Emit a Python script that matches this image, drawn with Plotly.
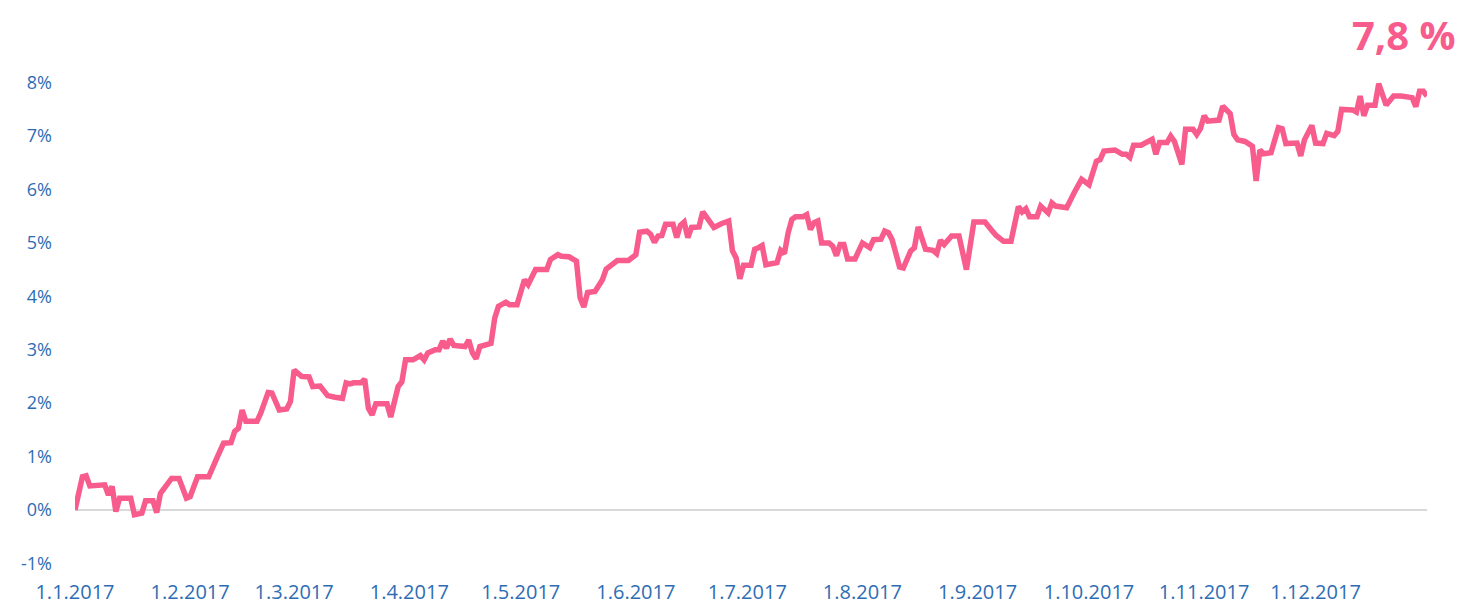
import pandas as pd
import plotly.graph_objects as go

# days since 1.1.2017 and cumulative return in percent
day_offset = [
    0, 2, 3, 4, 8, 9, 10, 11, 12, 15, 16, 18, 19, 21, 22, 23, 26, 28, 30, 31,
    33, 36, 38, 40, 42, 43, 44, 45, 46, 49, 50, 52, 53, 55, 57, 58, 59, 61, 63, 64,
    66, 68, 70, 72, 73, 74, 75, 77, 78, 79, 80, 81, 84, 85, 87, 88, 89, 91, 93, 94,
    95, 97, 98, 99, 100, 101, 102, 105, 106, 107, 108, 109, 112, 113, 114, 116, 117, 119, 121, 122,
    124, 127, 128, 130, 131, 133, 135, 136, 137, 138, 140, 142, 143, 144, 146, 149, 151, 152, 154, 155,
    156, 157, 158, 159, 161, 162, 163, 164, 165, 166, 168, 169, 172, 174, 175, 176, 177, 178, 179, 180,
    182, 183, 184, 185, 186, 189, 190, 191, 192, 193, 194, 196, 197, 198, 199, 200, 201, 203, 204, 205,
    206, 207, 208, 210, 212, 214, 215, 217, 218, 219, 220, 222, 223, 225, 226, 227, 229, 231, 232, 233,
    234, 236, 238, 240, 242, 245, 247, 248, 250, 252, 254, 255, 256, 257, 259, 260, 262, 263, 264, 267,
    269, 271, 273, 275, 276, 277, 280, 282, 283, 284, 285, 287, 290, 291, 292, 294, 295, 296, 298, 299,
    301, 302, 303, 304, 305, 308, 309, 311, 312, 313, 315, 317, 318, 319, 320, 322, 324, 325, 326, 329,
    330, 331, 333, 334, 336, 337, 339, 340, 341, 344, 345, 346, 347, 348, 350, 351, 353, 355, 357, 360,
    361, 362, 363, 364,
]
return_pct = [
    0.00, 0.62, 0.64, 0.45, 0.47, 0.28, 0.44, -0.03, 0.22, 0.22, -0.09, -0.06, 0.17, 0.17, -0.05, 0.31, 0.59, 0.59, 0.22, 0.25,
    0.62, 0.62, 0.94, 1.25, 1.26, 1.47, 1.53, 1.87, 1.66, 1.66, 1.81, 2.20, 2.19, 1.87, 1.89, 2.03, 2.62, 2.50, 2.49, 2.31,
    2.32, 2.14, 2.11, 2.09, 2.38, 2.36, 2.38, 2.38, 2.45, 1.90, 1.78, 1.99, 1.99, 1.74, 2.31, 2.40, 2.81, 2.81, 2.89, 2.81,
    2.94, 3.00, 3.00, 3.16, 3.03, 3.20, 3.08, 3.06, 3.18, 2.94, 2.83, 3.06, 3.12, 3.59, 3.81, 3.89, 3.84, 3.84, 4.31, 4.22,
    4.50, 4.50, 4.69, 4.78, 4.75, 4.74, 4.66, 3.97, 3.80, 4.07, 4.09, 4.31, 4.51, 4.56, 4.67, 4.67, 4.78, 5.20, 5.22, 5.16,
    5.01, 5.13, 5.14, 5.35, 5.35, 5.10, 5.33, 5.39, 5.10, 5.29, 5.30, 5.58, 5.29, 5.36, 5.38, 5.41, 4.85, 4.72, 4.33, 4.58,
    4.58, 4.88, 4.91, 4.95, 4.59, 4.63, 4.86, 4.80, 5.19, 5.44, 5.49, 5.49, 5.53, 5.25, 5.38, 5.41, 5.00, 5.00, 4.94, 4.76,
    4.97, 4.97, 4.70, 4.70, 5.00, 4.91, 5.06, 5.07, 5.22, 5.19, 5.06, 4.55, 4.53, 4.85, 4.91, 5.30, 4.88, 4.86, 4.80, 5.05,
    4.97, 5.13, 5.13, 4.50, 5.39, 5.39, 5.22, 5.14, 5.03, 5.03, 5.68, 5.58, 5.64, 5.49, 5.49, 5.69, 5.56, 5.75, 5.69, 5.66,
    5.94, 6.19, 6.09, 6.53, 6.56, 6.72, 6.74, 6.66, 6.66, 6.60, 6.83, 6.83, 6.94, 6.66, 6.88, 6.88, 7.00, 6.90, 6.47, 7.13,
    7.13, 7.03, 7.14, 7.38, 7.28, 7.30, 7.56, 7.42, 7.03, 6.93, 6.90, 6.81, 6.16, 6.74, 6.67, 6.69, 7.16, 7.14, 6.86, 6.87,
    6.63, 6.93, 7.20, 6.87, 6.86, 7.05, 7.01, 7.09, 7.50, 7.49, 7.45, 7.75, 7.38, 7.58, 7.58, 7.98, 7.58, 7.75, 7.75, 7.72,
    7.55, 7.84, 7.84, 7.75,
]

y_ticks = [-1, 0, 1, 2, 3, 4, 5, 6, 7, 8]
y_tick_labels = ["-1%", "0%", "1%", "2%", "3%", "4%", "5%", "6%", "7%", "8%"]

PINK = "#F75C8D"
BLUE = "#2E6DB4"
FONT = "Open Sans, Noto Sans, sans-serif"

dates = pd.Timestamp("2017-01-01") + pd.to_timedelta(day_offset, unit="D")

fig = go.Figure()
fig.add_trace(go.Scatter(
    x=dates, y=return_pct, mode="lines",
    line=dict(color=PINK, width=5.5), hoverinfo="skip", showlegend=False,
))

# big end-of-year label top right
last_label = f"{return_pct[-1]:.1f}".replace(".", ",") + " %"
fig.add_annotation(
    xref="paper", yref="paper", x=1, y=1, xanchor="right", yanchor="middle",
    xshift=31, yshift=22, text=f"<b>{last_label}</b>", showarrow=False,
    font=dict(family=FONT, size=40, color=PINK),
)

fig.update_xaxes(
    range=["2017-01-01", "2017-12-31"], tick0="2017-01-01", dtick="M1",
    tickformat="%-d.%-m.%Y", showgrid=False, zeroline=False, showline=False,
    automargin=False, ticklabelstandoff=4,
    tickfont=dict(family=FONT, size=20, color=BLUE),
)
fig.update_yaxes(
    range=[-1.2, 8.5], tickvals=y_ticks, ticktext=y_tick_labels, showgrid=False,
    zeroline=True, zerolinecolor="#D9D9D9", zerolinewidth=2, showline=False,
    automargin=False, ticklabelstandoff=22,
    tickfont=dict(family=FONT, size=18, color=BLUE),
)
# page body adds 8px around the plot div, so size is trimmed to fit the window
fig.update_layout(
    width=1458, height=599, plot_bgcolor="white", paper_bgcolor="white",
    margin=dict(l=67, r=39, t=48, b=33),
)
fig.write_html("out.html")
